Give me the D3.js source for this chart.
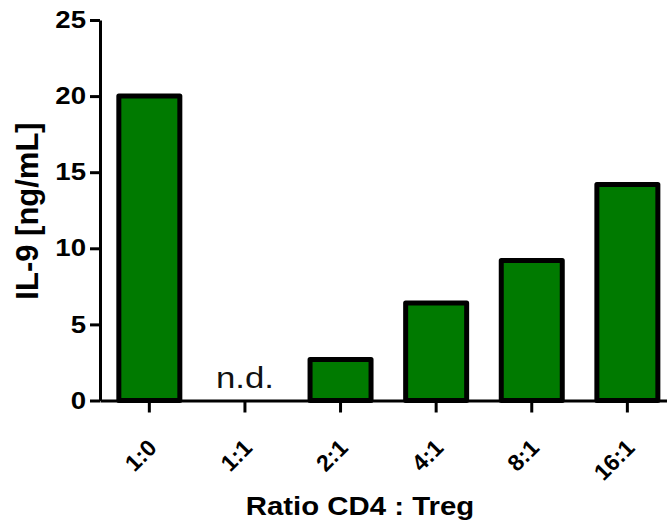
<!DOCTYPE html>
<html>
<head>
<meta charset="utf-8">
<script src="https://cdn.jsdelivr.net/npm/d3@7"></script>
<style>
  html, body { margin: 0; padding: 0; background: #fff; }
  svg { display: block; }
  svg text { font-family: "Liberation Sans", Arial, sans-serif; }
</style>
</head>
<body>
<svg id="chart" width="667" height="522"></svg>
<script>
// IL-9 concentration for each CD4 : Treg ratio (null = not detected)
const ratios = ["1:0", "1:1", "2:1", "4:1", "8:1", "16:1"];
const il9 = [20.0, null, 2.7, 6.4, 9.2, 14.2];
const yTicks = [0, 5, 10, 15, 20, 25];
const notDetectedLabel = "n.d.";
const yTitle = "IL-9 [ng/mL]";
const xTitle = "Ratio CD4 : Treg";

const FONT = "'Liberation Sans', Arial, sans-serif";
const WIDE = 1.15; // horizontal stretch of the lettering
const svg = d3.select("#chart");
const axisX = 100, baseY = 400.5, topY = 20;

const x = d3.scaleBand()
  .domain(ratios)
  .range([axisX, 676.7])
  .paddingInner(0.362)
  .paddingOuter(0.197)
  .align(0.5);

const y = d3.scaleLinear().domain([0, 25]).range([baseY, topY]);

const rows = ratios.map((r, i) => ({ ratio: r, value: il9[i] }));

// bars
svg.append("g")
  .selectAll("rect")
  .data(rows.filter(d => d.value !== null))
  .join("rect")
  .attr("x", d => x(d.ratio))
  .attr("y", d => y(d.value))
  .attr("width", x.bandwidth())
  .attr("height", d => y(0) - y(d.value))
  .attr("fill", "#007a00")
  .attr("stroke", "#000")
  .attr("stroke-width", 5)
  .attr("stroke-linejoin", "round");

// "n.d." markers where nothing was detected
svg.append("g")
  .selectAll("text")
  .data(rows.filter(d => d.value === null))
  .join("text")
  .attr("transform", d => `translate(${x(d.ratio) + x.bandwidth() / 2},388) scale(1.2,1)`)
  .attr("text-anchor", "middle")
  .attr("font-family", FONT)
  .attr("font-size", 29)
  .attr("fill", "#111")
  .text(notDetectedLabel);

// y axis
const gy = svg.append("g")
  .attr("transform", `translate(${axisX},0)`)
  .call(d3.axisLeft(y).tickValues(yTicks).tickSize(10).tickSizeOuter(0).tickPadding(4));
gy.select(".domain").attr("stroke-width", 3).attr("stroke", "#000");
gy.selectAll(".tick line").attr("stroke-width", 3).attr("stroke", "#000");
gy.selectAll(".tick text")
  .attr("font-size", 24)
  .attr("font-weight", "bold")
  .attr("font-family", FONT)
  .attr("fill", "#000")
  .attr("x", -14 / WIDE)
  .attr("transform", `scale(${WIDE},1)`);

// x axis
const gx = svg.append("g")
  .attr("transform", `translate(0,${baseY})`)
  .call(d3.axisBottom(x).tickSize(12).tickSizeOuter(0));
gx.select(".domain").attr("stroke-width", 3).attr("stroke", "#000");
gx.selectAll(".tick line").attr("stroke-width", 3).attr("stroke", "#000");
gx.selectAll(".tick text")
  .attr("font-size", 23)
  .attr("font-weight", "bold")
  .attr("font-family", FONT)
  .attr("fill", "#000")
  .attr("text-anchor", "end")
  .attr("dy", "0.72em")
  .attr("x", 0)
  .attr("y", 0)
  .attr("transform", "translate(-3,37) rotate(-45)");

// axis titles
svg.append("text")
  .attr("transform", `translate(360,515) scale(1.13,1)`)
  .attr("text-anchor", "middle")
  .attr("font-family", FONT)
  .attr("font-size", 26)
  .attr("font-weight", "bold")
  .attr("fill", "#000")
  .text(xTitle);

svg.append("text")
  .attr("transform", "translate(38,211) rotate(-90)")
  .attr("text-anchor", "middle")
  .attr("font-family", FONT)
  .attr("font-size", 31)
  .attr("font-weight", "bold")
  .attr("fill", "#000")
  .text(yTitle);
</script>
</body>
</html>
